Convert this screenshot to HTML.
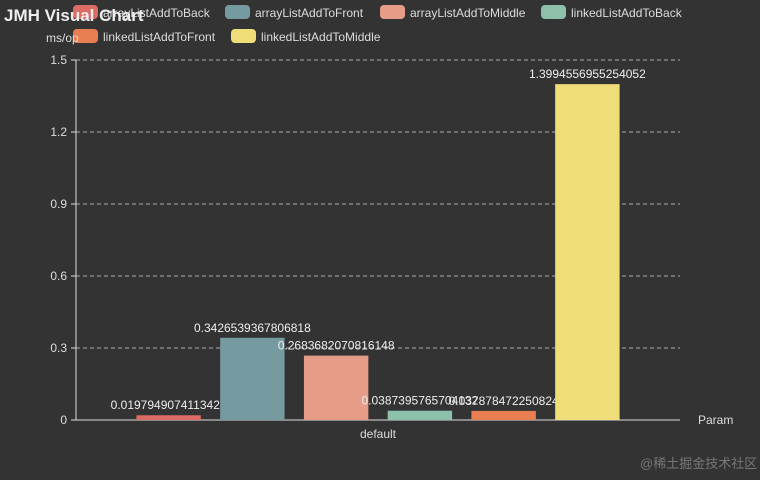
<!DOCTYPE html>
<html><head><meta charset="utf-8"><style>
body{margin:0;background:#333;}
svg{display:block;font-family:"Liberation Sans","Noto Sans CJK SC",sans-serif;}
</style></head><body>
<svg id="c" width="760" height="480">
<rect width="760" height="480" fill="#333"/>
<g id="grid"></g><g id="bars"></g><g id="legend"></g>
<text x="4" y="21" fill="#eee" font-size="17" font-weight="bold">JMH Visual Chart</text>
<text x="46" y="42" fill="#ddd" font-size="12">ms/op</text>
<text x="698" y="424" fill="#ddd" font-size="12">Param</text>
<text x="640" y="468" fill="#777" font-size="13">@稀土掘金技术社区</text>
</svg>
<script>
const categories=["default"];
const seriesNames=["arrayListAddToBack","arrayListAddToFront","arrayListAddToMiddle","linkedListAddToBack","linkedListAddToFront","linkedListAddToMiddle"];
const seriesValues=[0.0197949074113426,0.3426539367806818,0.2683682070816148,0.0387395765704132,0.037878472250824,1.3994556955254052];
const yTicks=[0,0.3,0.6,0.9,1.2,1.5];
const colors=["#dd6b66","#759aa0","#e69d87","#8dc1a9","#ea7e53","#eedd78"];
const NS="http://www.w3.org/2000/svg";
const x0=76,x1=680,yb=420,yt=60,ymax=1.5;
const yS=v=>yb-(v/ymax)*(yb-yt);
function mk(t,a,p){const e=document.createElementNS(NS,t);for(const k in a)e.setAttribute(k,a[k]);p.appendChild(e);return e;}
const g=document.getElementById('grid');
yTicks.forEach(v=>{const y=yS(v);
 if(v>0){const l=mk('line',{x1:x0,x2:x1,y1:y,y2:y,stroke:'#aaa','stroke-dasharray':'4,3','stroke-width':1},g);
 
 }
 const tk=mk('line',{x1:x0-5,x2:x0,y1:y,y2:y,stroke:'#ddd'},g);
 
 
 const t=mk('text',{x:x0-9,y:y+4,'text-anchor':'end',fill:'#ddd','font-size':12},g);t.textContent=String(v);
 
 
});
const ya=mk('line',{x1:x0,x2:x0,y1:yt,y2:yb,stroke:'#ddd'},g);


const xa=mk('line',{x1:x0,x2:x1,y1:yb,y2:yb,stroke:'#ddd'},g);


const cw=(x1-x0)/categories.length;
categories.forEach((c,i)=>{const t=mk('text',{x:x0+cw*(i+0.5),y:yb+18,'text-anchor':'middle',fill:'#ddd','font-size':12},g);t.textContent=c;
 
 });
const b=document.getElementById('bars');
const n=seriesValues.length,inner=cw*0.8,bw=inner/(n+(n-1)*0.3),gap=bw*0.3;
seriesValues.forEach((v,i)=>{const cx=x0+cw*0.1+i*(bw+gap);const y=yS(v);
 const r=mk('rect',{x:cx,y:y,width:bw,height:yb-y,fill:colors[i]},b);
 
 
 const t=mk('text',{x:cx+bw/2,y:y-6,'text-anchor':'middle',fill:'#eee','font-size':12},b);t.textContent=String(v);
 
 
});
const L=document.getElementById('legend');
const lpos=[[73,5],[225,5],[380,5],[541,5],[73,29],[231,29]];
seriesNames.forEach((s,i)=>{const gg=mk('g',{},L);
 
 
 mk('rect',{x:lpos[i][0],y:lpos[i][1],width:25,height:14,rx:4,fill:colors[i]},gg);
 const t=mk('text',{x:lpos[i][0]+30,y:lpos[i][1]+12,fill:'#ddd','font-size':12},gg);t.textContent=s;});
</script>
</body></html>
